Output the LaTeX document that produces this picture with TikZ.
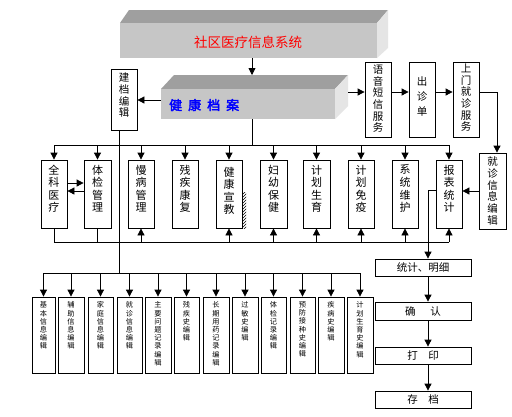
\documentclass[tikz,border=0pt]{standalone}
\usepackage{fontspec}
\setmainfont{Noto Sans CJK SC}
\newfontfamily\cjkb[FakeBold=2.5]{Noto Sans CJK SC}
\usetikzlibrary{arrows.meta,fit,patterns,calc}
\tikzset{
 box/.style={draw, line width=0.8pt, inner sep=0pt, fill=white},
 arr/.style={line width=0.8pt, -{Triangle[width=7pt,length=7pt]}},
 ln/.style={line width=0.8pt},
 vt/.style={anchor=north, align=center, inner sep=0pt, font=\fontsize{11}{12.6}\selectfont},
 vr/.style={anchor=north, align=center, inner sep=0pt, font=\fontsize{10.5}{11.7}\selectfont},
 vc/.style={anchor=north, align=center, inner sep=0pt, font=\fontsize{10.5}{15}\selectfont},
 vs/.style={anchor=north, align=center, inner sep=0pt, font=\fontsize{7.2}{8.2}\selectfont},
 hs/.style={inner sep=0pt, font=\fontsize{10.5}{12}\selectfont},
}
\newcommand\bxA[8][vt]{%
  \node[box, fit={(#3,#4)(#5,#6)}] (#2) {};
  \node[#1] (#2t) at ([yshift=-#7pt]#2.north) {#8};}
\newcommand\bxH[6]{%
  \node[box, fit={(#2,#3)(#4,#5)}] (#1) {};
  \node[hs] (#1t) at (#1.center) {#6};}
\begin{document}
\begin{tikzpicture}[x=1pt,y=-1pt]
\useasboundingbox[fill=white] (0,0) rectangle (512,416);
% top 3D box
\fill[gray!75] (120,23) -- (129,10) -- (388,10) -- (377,23) -- cycle;
\fill[gray!20] (377,23) -- (388,10) -- (388,48) -- (377,58) -- cycle;
\node[fit={(120,23)(377,58)}, inner sep=0pt, fill=gray!45] (sys) {};
\node[inner sep=0pt, text=red, font=\fontsize{13.5}{15}\selectfont] (syst) at (248,42) {社区医疗信息系统};
% health record 3D box
\coordinate (htop) at (252,75);
\draw[arr] (sys.south -| htop) -- (htop);
\fill[gray!75] (161,89) -- (174,75) -- (348,75) -- (335,89) -- cycle;
\fill[gray!20] (335,89) -- (348,75) -- (348,106) -- (335,119) -- cycle;
\node[fit={(161,89)(335,119)}, inner sep=0pt, fill=gray!45] (hk) {};
\node[anchor=west, inner sep=0pt, text=blue, font=\cjkb\fontsize{13}{14}\selectfont] (hkt) at (169,105) {健\hspace{6pt}康\hspace{6pt}档\hspace{6pt}案};
% left box
\bxA[vr]{jd}{111}{69}{137}{130}{4}{建\\档\\编\\辑}
\coordinate (ya) at (0,100);
\draw[arr] (hk.west |- ya) -- (jd.east |- ya);
% right chain
\bxA[vr]{yy}{365}{62}{391}{137}{3}{语\\音\\短\\信\\服\\务}
\bxA[vc]{cz}{409}{62}{435}{137}{15}{出\\诊\\单}
\bxA[vr]{sm}{453}{62}{479}{137}{2}{上\\门\\就\\诊\\服\\务}
\bxA[vr]{jz}{479}{153}{506}{229}{4}{就\\诊\\信\\息\\编\\辑}
\coordinate (hkr) at (348,92);
\coordinate (rc) at (497,92);
\draw[arr] (hkr) -- (yy.west |- hkr);
\draw[arr] (yy.east |- hkr) -- (cz.west |- hkr);
\draw[arr] (cz.east |- hkr) -- (sm.west |- hkr);
\draw[arr] (sm.east |- hkr) -- (rc) -- (rc |- jz.north);
% middle row
\fill[pattern=north east lines] (242,192) rectangle (246,228);
\bxA{qk}{41}{160}{67}{228}{5}{全\\科\\医\\疗}
\bxA{tj}{84}{160}{111}{228}{5}{体\\检\\管\\理}
\bxA{mb}{128}{160}{154}{228}{5}{慢\\病\\管\\理}
\bxA{cj}{172}{160}{198}{228}{5}{残\\疾\\康\\复}
\bxA{jk}{216}{160}{242}{228}{7}{健\\康\\宣\\教}
\bxA{fy}{260}{160}{287}{228}{5}{妇\\幼\\保\\健}
\bxA{jh}{303}{160}{330}{228}{5}{计\\划\\生\\育}
\bxA{jm}{348}{160}{374}{228}{5}{计\\划\\免\\疫}
\bxA{xt}{392}{160}{418}{228}{5}{系\\统\\维\\护}
\bxA{bb}{436}{160}{462}{228}{5}{报\\表\\统\\计}
\draw[arr] (jz.west) -- (jz.west -| bb.east);
% top bus
\coordinate (tbus) at (0,145);
\coordinate (hkb) at (252,119);
\draw[ln] (hkb) -- (hkb |- tbus);
\draw[ln] (qk.north |- tbus) -- (bb.north |- tbus);
\foreach \n in {qk,tj,mb,cj,jk,fy,jh,jm,xt,bb} \draw[arr] (\n.north |- tbus) -- (\n.north);
% double arrows
\coordinate (r1) at (0,183);
\coordinate (r2) at (0,191);
\draw[arr] (qk.east |- r1) -- (tj.west |- r1);
\draw[arr] (tj.west |- r2) -- (qk.east |- r2);
% middle bottom bus
\coordinate (mbus) at (0,242);
\draw[ln] (qk.south |- mbus) -- (bb.south |- mbus);
\draw[ln] (qk.south) -- (qk.south |- mbus);
\draw[ln] (tj.south) -- (tj.south |- mbus);
\foreach \n in {mb,jk,fy,jh,jm,xt,bb} \draw[arr] (\n.south |- mbus) -- (\n.south);
% right stack
\bxH{tjmx}{375}{259}{471}{276}{统计、明细}
\bxH{qr}{375}{302}{471}{320}{确\hspace{1.4em}认}
\bxH{dy}{375}{347}{471}{364}{打\hspace{1em}印}
\bxH{cd}{375}{391}{471}{408}{存\hspace{1em}档}
\coordinate (bbL) at (428,190);
\draw[arr] (bb.west |- bbL) -- (bbL) -- (tjmx.north -| bbL);
\draw[arr] (tjmx.south -| bbL) -- (qr.north -| bbL);
\draw[arr] (qr.south -| bbL) -- (dy.north -| bbL);
\draw[arr] (dy.south -| bbL) -- (cd.north -| bbL);
% bottom row
\bxA[vs]{b1}{32}{297}{55}{373}{5}{基\\本\\信\\息\\编\\辑}
\bxA[vs]{b2}{58}{297}{84}{373}{5}{辅\\助\\信\\息\\编\\辑}
\bxA[vs]{b3}{88}{297}{113}{373}{5}{家\\庭\\信\\息\\编\\辑}
\bxA[vs]{b4}{117}{297}{142}{373}{5}{就\\诊\\信\\息\\编\\辑}
\bxA[vs]{b5}{145}{297}{171}{373}{5}{主\\要\\问\\题\\记\\录\\编\\辑}
\bxA[vs]{b6}{174}{297}{199}{373}{5}{残\\疾\\史\\编\\辑}
\bxA[vs]{b7}{203}{297}{229}{373}{5}{长\\期\\用\\药\\记\\录\\编\\辑}
\bxA[vs]{b8}{232}{297}{258}{373}{5}{过\\敏\\史\\编\\辑}
\bxA[vs]{b9}{261}{297}{286}{373}{5}{体\\检\\记\\录\\编\\辑}
\bxA[vs]{b10}{290}{297}{315}{373}{5}{预\\防\\接\\种\\史\\编\\辑}
\bxA[vs]{b11}{318}{297}{344}{373}{5}{疾\\病\\史\\编\\辑}
\bxA[vs]{b12}{347}{297}{373}{373}{5}{计\\划\\生\\育\\史\\编\\辑}
\coordinate (bbus) at (0,273);
\coordinate (jdx) at (119,0);
\draw[ln] (jd.south -| jdx) -- (jdx |- bbus);
\draw[ln] (b1.north |- bbus) -- (b12.north |- bbus);
\foreach \n in {b1,b2,b3,b4,b5,b6,b7,b8,b9,b10,b11,b12} \draw[arr] (\n.north |- bbus) -- (\n.north);
\end{tikzpicture}
\end{document}
